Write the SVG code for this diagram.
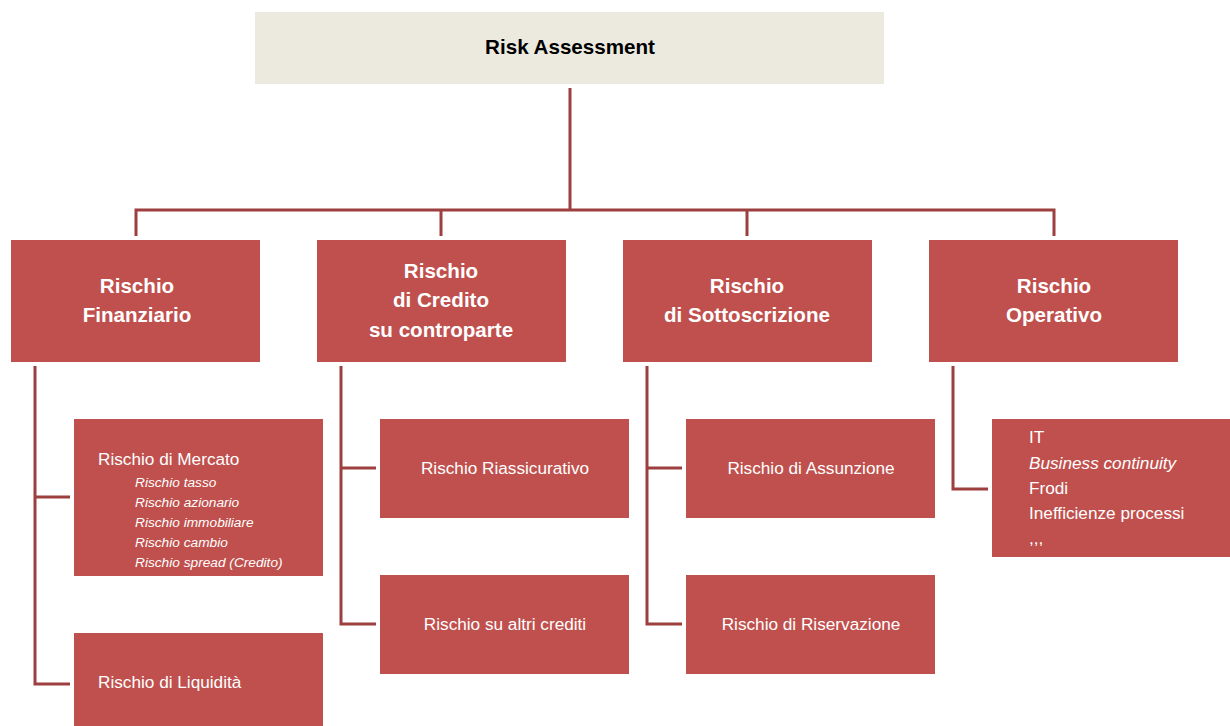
<svg xmlns="http://www.w3.org/2000/svg" width="1230" height="726" viewBox="0 0 1230 726">
<style>
.top{fill:#ECEADF}
.box{fill:#C0504D}
.ln{fill:none;stroke:#9E3F3F;stroke-width:3}
.h{font-family:"Liberation Sans",Arial,sans-serif;font-weight:bold;font-size:20.6px;fill:#fff;text-anchor:middle}
.ttl{font-family:"Liberation Sans",Arial,sans-serif;font-weight:bold;font-size:20.6px;fill:#000;text-anchor:middle}
.t{font-family:"Liberation Sans",Arial,sans-serif;font-size:17.2px;fill:#fff}
.c{text-anchor:middle}
.i{font-family:"Liberation Sans",Arial,sans-serif;font-size:13.7px;font-style:italic;fill:#fff}
</style>
<rect width="1230" height="726" fill="#fff"/>
<g id="connectors">
<path class="ln" d="M570,88 V210 M136,236 V210 H1054 V236 M441,210 V236 M747,210 V236"/>
<path class="ln" d="M35,366 V684 H70 M35,497 H70"/>
<path class="ln" d="M341,366 V624 H376 M341,468 H376"/>
<path class="ln" d="M647,366 V624 H682 M647,468 H682"/>
<path class="ln" d="M953,366 V489 H988"/>
</g>
<g id="root"><rect class="top" x="255" y="12" width="629" height="72"/><text class="ttl" x="570" y="54">Risk Assessment</text></g>
<g id="fin"><rect class="box" x="11" y="240" width="249" height="122"/><text class="h" x="137" y="293">Rischio</text><text class="h" x="137" y="322">Finanziario</text></g>
<g id="cred"><rect class="box" x="317" y="240" width="249" height="122"/><text class="h" x="441" y="278">Rischio</text><text class="h" x="441" y="307">di Credito</text><text class="h" x="441" y="337">su controparte</text></g>
<g id="sott"><rect class="box" x="623" y="240" width="249" height="122"/><text class="h" x="747" y="293">Rischio</text><text class="h" x="747" y="322">di Sottoscrizione</text></g>
<g id="oper"><rect class="box" x="929" y="240" width="249" height="122"/><text class="h" x="1054" y="293">Rischio</text><text class="h" x="1054" y="322">Operativo</text></g>
<g id="mercato"><rect class="box" x="74" y="419" width="249" height="157"/><text class="t" x="98" y="465">Rischio di Mercato</text>
<text class="i" x="135" y="487">Rischio tasso</text><text class="i" x="135" y="507">Rischio azionario</text><text class="i" x="135" y="527">Rischio immobiliare</text><text class="i" x="135" y="547">Rischio cambio</text><text class="i" x="135" y="567">Rischio spread (Credito)</text></g>
<g id="liquidita"><rect class="box" x="74" y="633" width="249" height="93"/><text class="t" x="98" y="688">Rischio di Liquidità</text></g>
<g id="riass"><rect class="box" x="380" y="419" width="249" height="99"/><text class="t c" x="505" y="474">Rischio Riassicurativo</text></g>
<g id="altri"><rect class="box" x="380" y="575" width="249" height="99"/><text class="t c" x="505" y="630">Rischio su altri crediti</text></g>
<g id="assunz"><rect class="box" x="686" y="419" width="249" height="99"/><text class="t c" x="811" y="474">Rischio di Assunzione</text></g>
<g id="riserv"><rect class="box" x="686" y="575" width="249" height="99"/><text class="t c" x="811" y="630">Rischio di Riservazione</text></g>
<g id="operlist"><rect class="box" x="992" y="419" width="238" height="138"/>
<text class="t" x="1029" y="443">IT</text><text class="t" x="1029" y="469" font-style="italic">Business continuity</text><text class="t" x="1029" y="494">Frodi</text><text class="t" x="1029" y="519">Inefficienze processi</text><text class="t" x="1029" y="544">,,,</text></g>
</svg>
